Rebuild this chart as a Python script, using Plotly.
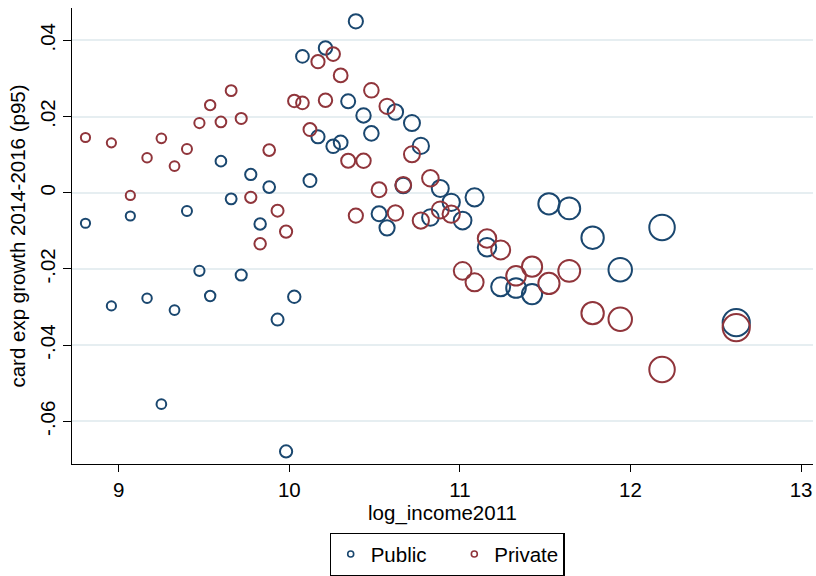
import plotly.graph_objects as go
import math

# shared log income (one public + one private observation per x)
log_income = [8.805, 8.957, 9.068, 9.166, 9.250, 9.327, 9.400, 9.473, 9.536, 9.599,
              9.659, 9.718, 9.774, 9.829, 9.882, 9.931, 9.981, 10.029, 10.077, 10.121,
              10.168, 10.212, 10.257, 10.301, 10.345, 10.390, 10.435, 10.481, 10.526, 10.573,
              10.622, 10.668, 10.719, 10.771, 10.827, 10.885, 10.949, 11.016, 11.086, 11.159,
              11.239, 11.329, 11.423, 11.522, 11.641, 11.778, 11.940, 12.185, 12.620]

public_growth = [-0.0080, -0.0297, -0.0061, -0.0277, -0.0555, -0.0308, -0.0048, -0.0205, -0.0271, 0.0083,
                 -0.0016, -0.0216, 0.0048, -0.0082, 0.0015, -0.0333, -0.0679, -0.0273, 0.0358, 0.0032,
                 0.0147, 0.0380, 0.0122, 0.0132, 0.0240, 0.0450, 0.0203, 0.0156, -0.0055, -0.0092,
                 0.0212, 0.0019, 0.0183, 0.0123, -0.0065, 0.0011, -0.0025, -0.0073, -0.0012, -0.0143,
                 -0.0247, -0.0250, -0.0266, -0.0029, -0.0041, -0.0118, -0.0202, -0.0091, -0.0341]

private_growth = [0.0145, 0.0131, -0.0007, 0.0092, 0.0143, 0.0070, 0.0115, 0.0183, 0.0230, 0.0186,
                  0.0268, 0.0195, -0.0012, -0.0134, 0.0112, -0.0047, -0.0102, 0.0241, 0.0236, 0.0166,
                  0.0344, 0.0243, 0.0364, 0.0308, 0.0084, -0.0060, 0.0084, 0.0269, 0.0008, 0.0227,
                  -0.0053, 0.0021, 0.0101, -0.0073, 0.0038, -0.0045, -0.0056, -0.0205, -0.0235, -0.0120,
                  -0.0150, -0.0218, -0.0194, -0.0238, -0.0205, -0.0316, -0.0332, -0.0464, -0.0354]

# relative weights (marker area)
weight = [1.00, 1.00, 1.00, 1.06, 1.10, 1.12, 1.17, 1.21, 1.25, 1.32,
          1.37, 1.42, 1.46, 1.51, 1.56, 1.64, 1.69, 1.74, 1.82, 1.88,
          1.96, 2.02, 2.07, 2.13, 2.19, 2.25, 2.31, 2.37, 2.46, 2.56,
          2.62, 2.72, 2.82, 2.92, 3.03, 3.17, 3.28, 3.42, 3.57, 3.72,
          3.92, 4.16, 4.41, 4.84, 5.15, 5.38, 5.90, 6.92, 7.84]

y_tickvals = [0.04, 0.02, 0.0, -0.02, -0.04, -0.06]
y_ticktext = [".04", ".02", "0", "-.02", "-.04", "-.06"]
x_tickvals = [9, 10, 11, 12, 13]

NAVY = "#1a476f"
MAROON = "#90353b"
LW = 2.0
sizes = [10 * math.sqrt(w) - 0.8 for w in weight]

FONT = "Liberation Sans, Arial, sans-serif"
FS = 20.5

fig = go.Figure()
fig.add_trace(go.Scatter(x=log_income, y=public_growth, mode="markers", name="Public",
                         showlegend=False,
                         marker=dict(symbol="circle-open", size=sizes, color=NAVY, opacity=1,
                                     line=dict(width=LW, color=NAVY))))
fig.add_trace(go.Scatter(x=log_income, y=private_growth, mode="markers", name="Private",
                         showlegend=False,
                         marker=dict(symbol="circle-open", size=sizes, color=MAROON, opacity=1,
                                     line=dict(width=LW, color=MAROON))))
# legend entries
fig.add_trace(go.Scatter(x=[None], y=[None], mode="markers", name="Public    ",
                         marker=dict(symbol="circle-open", size=6, color=NAVY, opacity=1,
                                     line=dict(width=1.6, color=NAVY))))
fig.add_trace(go.Scatter(x=[None], y=[None], mode="markers", name="Private",
                         marker=dict(symbol="circle-open", size=6, color=MAROON, opacity=1,
                                     line=dict(width=1.6, color=MAROON))))

fig.update_layout(
    width=816, height=576,
    margin=dict(l=72, r=3, t=8, b=112, autoexpand=False),
    paper_bgcolor="white", plot_bgcolor="white",
    font=dict(family=FONT, size=FS, color="black"),
    legend=dict(orientation="h", x=447 / 816, xanchor="center", xref="container",
                y=1 - 533 / 576, yanchor="top", yref="container",
                bordercolor="black", borderwidth=1.2, font=dict(size=FS),
                itemwidth=30, tracegroupgap=0),
    xaxis=dict(range=[8.726, 13.07], tickvals=x_tickvals, ticks="outside", ticklen=7,
               tickwidth=1.3, tickcolor="black", showline=True, linecolor="black",
               linewidth=1.4, showgrid=False, zeroline=False, automargin=False,
               title=dict(text="log_income2011", standoff=0, font=dict(size=FS))),
    yaxis=dict(range=[-0.0712, 0.0485], tickvals=y_tickvals, ticktext=y_ticktext,
               tickangle=-90, ticks="outside", ticklen=8, tickwidth=1.3, tickcolor="black",
               showline=True, linecolor="black", linewidth=1.4, showgrid=True,
               gridcolor="#e6eef1", gridwidth=1.5, zeroline=False, automargin=False,
               title=dict(text="card exp growth 2014-2016 (p95)", standoff=4,
                          font=dict(size=FS))),
)

fig.write_html("out.html", config={"displayModeBar": False},
               post_script="document.body.style.margin='0';document.body.style.overflow='hidden';")
